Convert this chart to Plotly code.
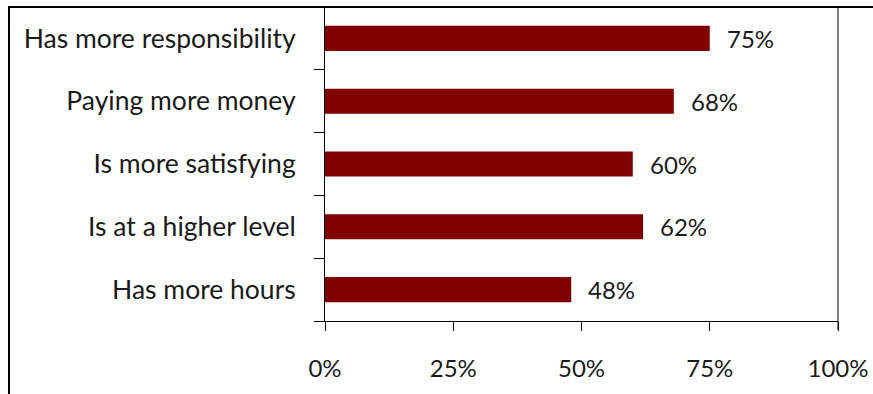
import plotly.graph_objects as go

# Survey responses: what a new job offers
categories = ["Has more responsibility", "Paying more money", "Is more satisfying",
              "Is at a higher level", "Has more hours"]
values = [75, 68, 60, 62, 48]
x_ticks = [0, 25, 50, 75, 100]
x_tick_labels = ["0%", "25%", "50%", "75%", "100%"]

FONT = "Lato, 'Open Sans', sans-serif"
BAR = "#800000"
TEXT = "#1a1a1a"

fig = go.Figure(go.Bar(
    y=categories,
    x=values,
    orientation="h",
    marker=dict(color=BAR, line=dict(width=0)),
    width=0.4,
    hoverinfo="x+y",
))

# Value labels just past the end of each bar
for cat, v in zip(categories, values):
    fig.add_annotation(
        x=v, y=cat, text=f"{v}%", showarrow=False,
        xanchor="left", yanchor="middle", xshift=15,
        font=dict(family=FONT, size=24, color=TEXT),
    )

fig.update_layout(
    width=873, height=394,
    margin=dict(l=325, r=35, t=7, b=73, autoexpand=False),
    plot_bgcolor="white", paper_bgcolor="white",
    showlegend=False,
    font=dict(family=FONT, size=20, color=TEXT),
)

fig.update_xaxes(
    range=[0, 100], automargin=False,
    tickvals=x_ticks, ticktext=x_tick_labels,
    ticks="outside", ticklen=9, tickwidth=1, tickcolor="black",
    showline=True, linecolor="black", linewidth=1,
    showgrid=False, zeroline=False,
    ticklabelstandoff=17,
    tickfont=dict(family=FONT, size=24, color=TEXT),
)

fig.update_yaxes(
    categoryorder="array", categoryarray=categories[::-1], automargin=False,
    ticks="outside", tickson="boundaries", ticklen=10, tickcolor="black",
    showline=True, linecolor="black", linewidth=1,
    showgrid=False, zeroline=False,
    ticklabelstandoff=23,
    tickfont=dict(family=FONT, size=26.5, color=TEXT),
)

# Outer frame: top rule, left rule and the right edge at 100%
fig.add_shape(type="line", xref="paper", yref="paper",
              x0=-0.618, x1=1.07, y0=1, y1=1,
              line=dict(color="black", width=2))
fig.add_shape(type="line", xref="paper", yref="paper",
              x0=-0.616, x1=-0.616, y0=1, y1=-0.24,
              line=dict(color="black", width=2))
fig.add_shape(type="line", xref="paper", yref="paper",
              x0=1, x1=1, y0=1, y1=-0.029,
              line=dict(color="black", width=1))

fig.write_html("out.html")
